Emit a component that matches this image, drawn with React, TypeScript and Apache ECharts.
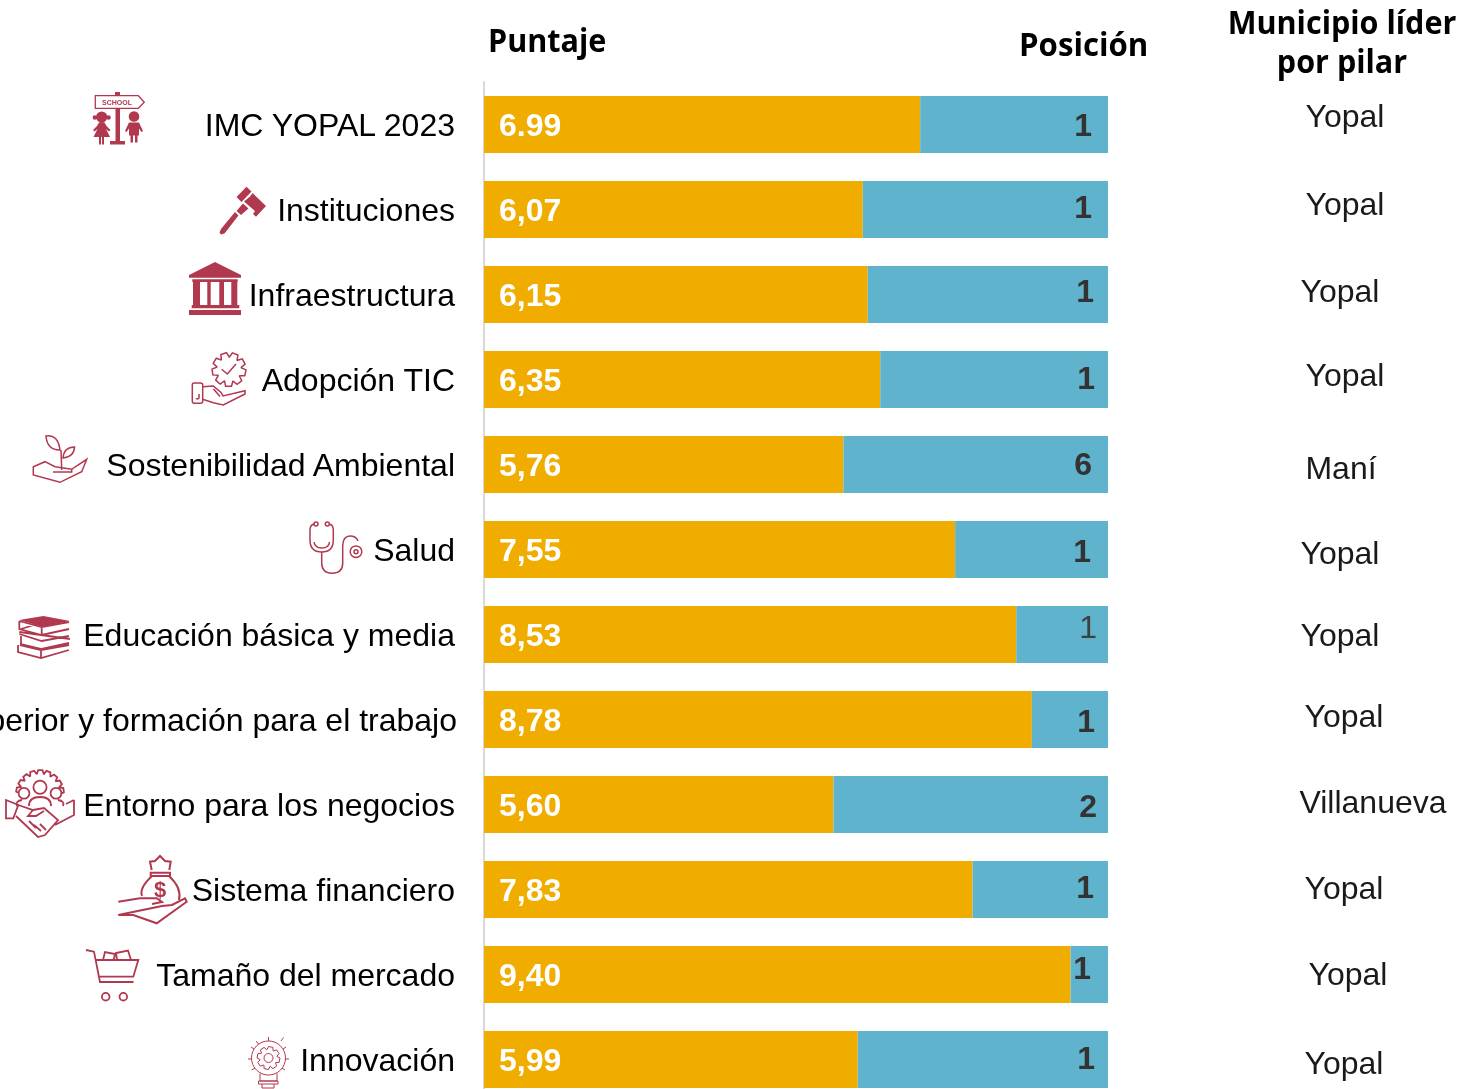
import React, { useEffect, useRef } from "react";
import * as echarts from "echarts";

const pillars = [
  "IMC YOPAL 2023", "Instituciones", "Infraestructura", "Adopción TIC", "Sostenibilidad Ambiental", "Salud",
  "Educación básica y media", "Educación superior y formación para el trabajo", "Entorno para los negocios",
  "Sistema financiero", "Tamaño del mercado", "Innovación",
];
const scores = [6.99, 6.07, 6.15, 6.35, 5.76, 7.55, 8.53, 8.78, 5.6, 7.83, 9.4, 5.99];
const scoreLabels = ["6.99", "6,07", "6,15", "6,35", "5,76", "7,55", "8,53", "8,78", "5,60", "7,83", "9,40", "5,99"];
const remainders = [3.01, 3.93, 3.85, 3.65, 4.24, 2.45, 1.47, 1.22, 4.4, 2.17, 0.6, 4.01];
const positions = [1, 1, 1, 1, 6, 1, 1, 1, 2, 1, 1, 1];
const leaders = ["Yopal", "Yopal", "Yopal", "Yopal", "Maní", "Yopal", "Yopal", "Yopal", "Villanueva", "Yopal", "Yopal", "Yopal"];

// layout tables (hand-placed in the source slide)
const leaderX = [1345, 1345, 1340, 1345, 1341, 1340, 1340, 1344, 1373, 1344, 1348, 1344];
const leaderY = [116, 204, 291, 375, 468, 553, 635, 716, 802, 888, 974, 1063];
const posDx = [0, 0, 2, 3, 0, -1, 5, 3, 5, 2, -1, 3];
const posDy = [0, -3, -4, -2, -1, 1, -8, 1, 1, -3, -7, -2];

const RED = "#B0394F";

function gear(cx: number, cy: number, ro: number, ri: number, n: number, rot = 0, sweep = 1, closed = true) {
  let d = "";
  for (let i = 0; i < n; i++) {
    const a = rot + (i / n) * Math.PI * 2 * sweep;
    const w = (Math.PI / n) * sweep;
    const pts = [
      [ri, a - w * 0.95], [ro, a - w * 0.5], [ro, a + w * 0.5], [ri, a + w * 0.95],
    ];
    for (const [r, t] of pts) {
      d += (d ? "L" : "M") + (cx + r * Math.cos(t)).toFixed(1) + " " + (cy + r * Math.sin(t)).toFixed(1) + " ";
    }
  }
  return d + (closed ? "Z" : "");
}
const circ = (cx: number, cy: number, r: number) =>
  `M${cx - r} ${cy} A${r} ${r} 0 1 1 ${cx + r} ${cy} A${r} ${r} 0 1 1 ${cx - r} ${cy} Z `;

const filledIcons: Record<string, string> = {
  school:
    "M115 92H120V95.5H115Z M115.5 108.5H120V141H125V144.5H110V141H115.5Z " +
    circ(101.7, 117, 5.6) + circ(94.8, 117.5, 2.2) + circ(108.6, 117.5, 2.2) +
    "M99 122.5H104.5L106.5 126L110.5 130L109 131.5L106 129L110 137H104V144.5H102V137H101V144.5H99V137H93.5L97.5 129L94.5 131.5L93 130L97 126Z " +
    circ(134, 116.5, 5.3) +
    "M129 122.5H139L143 131L141.5 132L139 128.5V135.5H137.5V142.5H135V135.5H133V142.5H130.5V135.5H129V128.5L126.5 132L125 131Z",
  gavel:
    "M246.5 186.7L251.5 191.5L241.5 202L236.5 197Z M250 196.5L252.5 193L266 206L256 216.7L253 214L255 211L244 201.5Z " +
    "M243 203.5L248.5 208.5L241 215L236.5 211Z " +
    "M235 212L238.5 215.5L224.5 233.5L221 234.5L219.5 232.5L221 229Z",
  bank:
    "M215 262L241 275V277.7H189V275Z M192.3 279.3H237.7V282H192.3Z " +
    "M193 282H200V305H193Z M207.3 282H210.7V305H207.3Z M219.3 282H224V305H219.3Z M231.3 282H237.3V305H231.3Z " +
    "M191.7 305H239.3V308.3H191.7Z M189 310H241V315H189Z",
  books: "M19.3 620L43.3 616L70 621L41.7 626.7Z",
};
const strokeIcons: Record<string, string> = {
  tic:
    gear(229, 369.5, 17, 12.5, 9, 0.2) +
    " M221.7 369.3L227.3 374L236 364 " +
    "M194 383H200.5Q202.7 383 202.7 385V401Q202.7 403.3 200.5 403.3H194Q192.3 403.3 192.3 401V385Q192.3 383 194 383Z " +
    "M196 398Q197 400 199 398V394 " +
    "M202.7 386.7L213.3 386L221 392.5L223 396L245 390.7V394L223.3 405L213.3 402.7L202.7 399.3 M213.5 389L220 396.5",
  plant:
    "M33.3 475V466.7L45 461.7L55 466.7L71.7 469.3L86.7 459.3L81.7 471.7L60 482.3Z M53 472H71.7V469.3 " +
    "M61.7 470L61 450 M60 450Q47 450 46 436Q58 434 60 450Z M63 458Q64 447 74.5 447Q74 457 63 458Z",
  stetho:
    circ(316, 524, 2) + circ(327.3, 524, 2) +
    "M314 524Q310 525 310 530V540Q310 552 321.7 552Q333.3 552 333.3 540V530Q333.3 525 329.3 524 " +
    "M314 542Q315 548 321.7 548Q329 548 329.5 542 M321.7 552V563Q322 573.3 332 573.3Q342.7 573.3 342.7 563V546Q343 536 350 536Q356 536 358 541 " +
    circ(356, 551.7, 5.8) + circ(356, 551.7, 2),
  books:
    "M19.3 621V629L41.7 635L69 629 M21 629L41.7 622.5V635 M19.3 621L41.7 627L69 622 " +
    "M19.3 632L70 639 M21 636V644L41.7 649L69 643 M19.3 634L41.7 641L69 636 " +
    "M18 645V652L41 658L69 650 M20 645L41 650L69 645 M41 650V658",
  biz:
    gear(40, 794, 24, 20.5, 9, Math.PI * 1.06, 0.5, false) +
    " " + circ(40, 787.3, 6.6) + circ(24, 793.3, 5.4) + circ(56, 793.3, 5.4) +
    "M29 806Q29 797 40 797Q51 797 51 806 M17 806Q15 801 22 800 M63 806Q65 801 58 800 " +
    "M6 800L18.3 805L13.3 818.3H6Z M74 800V815L55 825 M66 804L74 800 " +
    "M18.3 805L33 810L44 808L58 820L45 835L38 837L16 816 M33 810L28 816L36 816L44 811 M40 824L46 830 M34 825L41 831 M29 821L36 828",
  bag:
    "M151.7 870L150 861.7L155 861L160 856L165 861L170.7 861.7L169.3 870 M150.7 872.7H170V876H150.7Z " +
    "M152 876Q139 888 142 896 M169 876Q182 888 179 900 " +
    "M118.3 901.7L140 898.3H156.7L162 902L152 904 M162 906L172 905L185 898.3L186.7 901.7L156.7 923.3L133.3 915H118.3Z",
  cart:
    "M86 950L94 951.7L100 982H133.5 M96 960H138.3L133.3 976.7H99.3 " + circ(105.7, 996.7, 3.8) + circ(123.3, 996.7, 3.8) +
    "M103 960L105 952L115 954L113.5 960 M117 960L116 953L128 950.5L131 960",
  bulb:
    circ(268.5, 1058, 17) + gear(268.5, 1058, 11.5, 8.5, 8, 0.2) + " " + circ(268.5, 1058, 4.5) +
    "M260 1073.5V1081H277V1073.5 M258.5 1081H278V1084H258.5Z M262 1084V1088H274V1084 " +
    "M268.5 1037V1041 M281 1041L283.5 1037.5 M251 1047L254 1049 M286 1047L283 1049 M256 1041L258.5 1044 " +
    "M248 1059H251.5 M285.5 1059H289 M251.5 1070L255 1068 M282 1068L285 1070",
};
const strokeWidths: Record<string, number> = { bulb: 1, biz: 1.8, bag: 2, books: 1.8, cart: 1.8 };

Object.entries(filledIcons).forEach(([k, d]) =>
  echarts.graphic.registerShape("fi_" + k, echarts.graphic.extendPath(d as any, {}) as any)
);
Object.entries(strokeIcons).forEach(([k, d]) =>
  echarts.graphic.registerShape("si_" + k, echarts.graphic.extendPath(d as any, {}) as any)
);

const headerFont = { fontFamily: "Open Sans", fontWeight: 700, fill: "#000", fontSize: 32 };

export default function App() {
  const ref = useRef<HTMLDivElement>(null);
  useEffect(() => {
    const chart = echarts.init(ref.current!, undefined, { renderer: "svg", width: 1478, height: 1089 });
    const icons: any[] = [];
    Object.keys(filledIcons).forEach((k) =>
      icons.push({ type: "fi_" + k, x: 0, y: 0, style: { fill: RED, stroke: "none" } })
    );
    Object.keys(strokeIcons).forEach((k) =>
      icons.push({ type: "si_" + k, x: 0, y: 0, style: { fill: "none", stroke: RED, lineWidth: strokeWidths[k] ?? 1.5 } })
    );
    chart.setOption({
      animation: false,
      grid: { left: 484, width: 624, top: 82, height: 1020, containLabel: false, outerBoundsMode: "none" },
      xAxis: { type: "value", min: 0, max: 10, show: false },
      yAxis: {
        type: "category",
        inverse: true,
        data: pillars.map((name, i) =>
          i === 7 ? { value: name, textStyle: { padding: [0, -2, 2, 0] } } : name
        ),
        axisLine: { show: true, onZero: false, lineStyle: { color: "#D9D9D9", width: 2 } },
        axisTick: { show: false },
        axisLabel: { margin: 29, fontFamily: "Liberation Sans", fontSize: 32, color: "#000", padding: [0, 0, 2, 0] },
      },
      series: [
        {
          type: "bar",
          stack: "total",
          barWidth: 57,
          itemStyle: { color: "#F0AD00" },
          label: {
            show: true,
            position: "insideLeft",
            distance: 15,
            fontFamily: "Liberation Sans",
            fontSize: 32,
            fontWeight: "bold",
            color: "#fff",
            formatter: (p: any) => scoreLabels[p.dataIndex],
          },
          data: scores,
        },
        {
          type: "bar",
          stack: "total",
          barWidth: 57,
          itemStyle: { color: "#60B3CD" },
          label: {
            show: true,
            position: "insideRight",
            distance: 16,
            fontFamily: "Liberation Sans",
            fontSize: 32,
            fontWeight: "bold",
            color: "#333",
            formatter: (p: any) => String(positions[p.dataIndex]),
          },
          data: remainders.map((v, i) => ({
            value: v,
            label: {
              offset: [posDx[i], posDy[i]],
              ...(i === 6 ? { fontWeight: "normal", color: "#404040" } : {}),
            },
          })),
        },
      ],
      graphic: [
        { type: "text", x: 488, y: 40, scaleX: 0.955, style: { text: "Puntaje", ...headerFont, textVerticalAlign: "middle" } },
        { type: "text", x: 1019, y: 43, scaleX: 0.975, style: { text: "Posición", ...headerFont, textVerticalAlign: "middle" } },
        { type: "text", x: 1342, y: 22, scaleX: 0.955, style: { text: "Municipio líder", ...headerFont, textAlign: "center", textVerticalAlign: "middle" } },
        { type: "text", x: 1342, y: 61, scaleX: 0.955, style: { text: "por pilar", ...headerFont, textAlign: "center", textVerticalAlign: "middle" } },
        ...leaders.map((t, i) => ({
          type: "text",
          x: leaderX[i],
          y: leaderY[i],
          style: { text: t, fontFamily: "Liberation Sans", fontSize: 32, fill: "#1a1a1a", textAlign: "center", textVerticalAlign: "middle" },
        })),
        { type: "text", x: 117, y: 102.3, style: { text: "SCHOOL", fontFamily: "Liberation Sans", fontWeight: 700, fontSize: 7, fill: RED, textAlign: "center", textVerticalAlign: "middle" } },
        { type: "text", x: 160, y: 889, style: { text: "$", fontFamily: "Liberation Sans", fontWeight: 700, fontSize: 22, fill: RED, textAlign: "center", textVerticalAlign: "middle" } },
        { type: "polygon", shape: { points: [[95.3, 95.7], [138.3, 95.7], [144.3, 102.3], [138.3, 108.3], [95.3, 108.3]] }, z: -1, style: { fill: "#fff", stroke: RED, lineWidth: 1.3 } },
        ...icons,
      ],
    });
    return () => chart.dispose();
  }, []);
  return <div ref={ref} style={{ position: "fixed", left: 0, top: 0, width: 1478, height: 1089, overflow: "hidden" }} />;
}
